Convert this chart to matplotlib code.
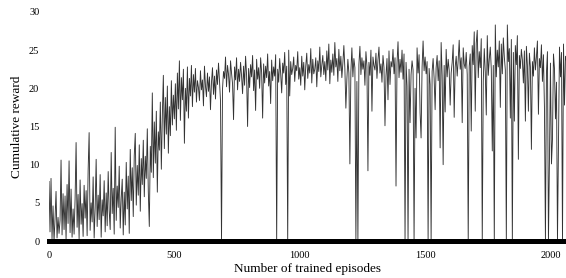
import numpy as np
import matplotlib
matplotlib.use("Agg")
import matplotlib.pyplot as plt

# reward, one value every 4 episodes (0 ... 2064)
step = 4
reward_rows = [
    [7.8, 1.2, 8.2, 0.3, 4.6, 0.0, 2.9, 6.5, 0.4, 3.1, 1.0, 2.7, 10.6, 0.8, 6.2, 1.5, 5.9, 0.2, 7.4, 2.3, 10.5, 1.1, 6.8, 0.5, 4.2],
    [0.9, 5.5, 12.9, 1.8, 6.1, 0.3, 8.0, 2.2, 4.9, 0.6, 7.3, 3.0, 6.6, 0.7, 9.2, 14.2, 1.4, 5.0, 2.5, 8.4, 0.4, 4.3, 10.7, 1.9, 6.0],
    [2.8, 8.7, 0.5, 5.4, 3.3, 7.9, 1.2, 6.3, 2.0, 9.1, 4.0, 1.5, 11.6, 3.6, 6.9, 0.9, 14.9, 2.7, 7.2, 4.4, 9.8, 1.7, 5.6, 8.1, 0.8],
    [6.4, 2.1, 10.3, 4.2, 8.5, 1.0, 12.0, 5.3, 9.6, 3.2, 11.2, 14.1, 4.7, 9.9, 6.0, 12.6, 3.9, 10.8, 7.4, 13.2, 5.8, 11.1, 8.2, 14.7, 6.5],
    [1.9, 12.4, 9.0, 19.4, 8.3, 15.6, 10.2, 17.0, 6.4, 14.3, 11.9, 18.2, 9.4, 16.5, 21.7, 12.1, 18.8, 14.0, 20.3, 11.5, 17.6, 13.8, 21.0, 15.2, 19.1],
    [16.0, 20.6, 14.5, 22.0, 17.3, 23.6, 15.8, 21.4, 18.5, 22.5, 12.8, 20.0, 17.0, 22.8, 16.1, 21.3, 19.0, 23.0, 17.6, 21.8, 19.5, 22.6, 18.2, 21.0, 20.1],
    [18.4, 22.3, 19.8, 21.1, 17.7, 22.9, 20.3, 18.9, 22.0, 19.6, 21.5, 17.2, 20.8, 22.7, 19.2, 21.6, 18.6, 22.4, 20.5, 23.3, 21.0, 18.3, 23.9, 19.9, 22.2],
    [21.3, 24.1, 20.2, 23.0, 21.8, 19.5, 23.6, 22.0, 20.6, 15.9, 22.8, 21.1, 24.0, 19.8, 22.5, 20.9, 23.4, 21.6, 19.3, 22.9, 20.4, 24.2, 21.7, 15.0, 22.6],
    [20.1, 23.1, 21.5, 24.3, 19.7, 22.4, 17.1, 23.8, 21.2, 22.7, 20.0, 24.0, 22.1, 16.1, 23.2, 20.7, 22.9, 21.4, 24.5, 20.3, 22.2, 18.0, 23.7, 21.0, 22.8],
    [21.6, 24.4, 18.2, 22.5, 20.8, 23.9, 21.9, 19.4, 23.3, 22.0, 24.7, 20.5, 22.9, 21.3, 25.0, 19.0, 23.5, 21.8, 22.6, 24.1, 20.9, 23.0, 22.3, 24.8, 21.2],
    [22.7, 20.4, 24.2, 21.6, 23.4, 19.8, 22.9, 24.6, 21.3, 23.1, 22.0, 25.2, 20.7, 23.8, 21.9, 22.5, 24.0, 20.2, 23.6, 22.2, 25.4, 21.5, 23.0, 24.3, 21.8],
    [23.5, 21.0, 24.9, 22.4, 25.8, 20.6, 23.7, 22.1, 24.5, 21.7, 26.0, 22.8, 23.9, 20.9, 25.1, 22.3, 24.2, 21.4, 23.3, 25.6, 22.6, 24.0, 21.2, 23.8, 22.0],
    [24.7, 22.2, 25.3, 21.5, 23.9, 22.7, 24.2, 20.9, 23.5, 23.1, 25.5, 21.8, 24.0, 22.5, 23.6, 20.4, 24.8, 22.9, 21.0, 23.4, 21.7, 25.0, 22.3, 24.1, 23.0],
    [22.4, 24.6, 21.3, 23.7, 25.4, 22.0, 23.2, 20.8, 24.3, 22.7, 25.8, 21.6, 23.9, 22.2, 24.9, 20.5, 23.5, 22.8, 25.1, 21.9, 24.0, 22.6, 23.3, 26.1, 21.4],
    [23.8, 22.1, 25.0, 21.2, 24.5, 22.9, 23.4, 20.3, 24.7, 22.5, 25.9, 21.8, 23.6, 22.4, 24.2, 20.0, 23.1, 25.3, 22.0, 24.4, 21.5, 23.7, 22.8, 26.2, 22.3],
    [24.1, 21.9, 23.5, 25.2, 22.6, 20.5, 24.8, 22.2, 23.9, 21.3, 25.5, 22.7, 24.3, 21.0, 23.6, 22.9, 26.0, 21.7, 24.6, 23.0, 22.1, 25.1, 21.5, 23.8, 22.4],
    [24.9, 22.0, 23.4, 25.7, 16.2, 22.8, 24.2, 21.6, 23.7, 26.3, 22.5, 24.0, 21.1, 25.3, 23.2, 22.6, 24.7, 21.8, 26.8, 22.9, 24.5, 20.8, 25.6, 23.1, 27.4],
    [22.3, 25.9, 27.6, 21.4, 24.8, 22.7, 26.5, 23.6, 20.9, 25.2, 22.1, 24.4, 26.9, 21.7, 23.8, 25.4, 22.5, 27.2, 23.0, 24.6, 28.3, 21.5, 25.0, 22.8, 26.2],
    [23.4, 25.8, 21.9, 26.6, 24.1, 22.4, 27.0, 28.3, 23.5, 25.2, 21.2, 26.4, 22.9, 24.7, 20.4, 25.6, 23.1, 26.9, 21.8, 24.3, 22.6, 25.1, 23.7, 20.7, 24.9],
    [22.2, 25.5, 23.0, 21.3, 24.6, 22.8, 26.0, 23.5, 21.6, 25.3, 22.4, 24.1, 26.2, 21.0, 23.9, 22.7, 25.7, 20.9, 24.4, 23.2, 26.5, 22.0, 24.8, 21.4, 25.0],
    [23.3, 25.9, 21.7, 24.5, 22.6, 26.3, 20.8, 24.0, 23.1, 25.4, 21.5, 24.7, 22.3, 25.8, 22.9, 24.2, 23.6],
]

# single episodes where the reward dropped (episode, reward)
drop_episodes = [689, 908, 952, 1182, 1198, 1224, 1234, 1274, 1290, 1340, 1350, 1382, 1421,
                 1433, 1440, 1455, 1465, 1480, 1484, 1510, 1514, 1524, 1540, 1560, 1571, 1579,
                 1600, 1617, 1650, 1673, 1684, 1700, 1729, 1745, 1770, 1777, 1800, 1824, 1838,
                 1849, 1858, 1870, 1899, 1910, 1923, 1950, 1976, 1979, 1990, 1995, 2003, 2010,
                 2020, 2028, 2034, 2049, 2056]
drop_rewards = [0, 0, 0, 17.4, 10.1, 0, 0, 9.2, 17.0, 15.1, 18.5, 7.2, 0,
                0, 15.5, 0, 13.5, 16.8, 13.5, 10.9, 0, 0, 17.2, 12.2, 10.0, 16.9,
                17.8, 16.2, 15.5, 0, 14.4, 17.0, 0, 16.5, 11.8, 0, 17.5, 0, 16.1,
                0, 15.7, 10.7, 15.7, 17.0, 12.0, 16.6, 17.5, 0, 0, 10.7, 10.1, 13.3,
                16.0, 0, 12.2, 0, 17.8]

reward = np.array([v for row in reward_rows for v in row])
episodes = np.arange(len(reward)) * step
for ep, r in zip(drop_episodes, drop_rewards):
    reward[int(round(ep / step))] = r

plt.rcParams['font.family'] = ['Liberation Serif', 'DejaVu Serif']

fig = plt.figure(figsize=(5.66, 2.78), dpi=100)
ax = fig.add_axes([0.0866, 0.133, 0.9134, 0.824])
ax.plot(episodes, reward, color='#333333', linewidth=0.65)

ax.set_xlim(0, 2062)
ax.set_ylim(0, 30)
ax.set_xticks([0, 500, 1000, 1500, 2000])
ax.set_yticks([0, 5, 10, 15, 20, 25, 30])
ax.tick_params(axis='both', length=0, labelsize=7.5)
ax.tick_params(axis='x', pad=7)
ax.tick_params(axis='y', pad=7)

for side in ['top', 'right', 'left']:
    ax.spines[side].set_visible(False)
ax.spines['bottom'].set_linewidth(3.6)
ax.spines['bottom'].set_color('black')
ax.spines['bottom'].set_zorder(3)

ax.set_xlabel('Number of trained episodes', fontsize=9.5, labelpad=2)
ax.set_ylabel('Cumulative reward', fontsize=9.5, labelpad=4)

fig.savefig('out.png', dpi=100)
